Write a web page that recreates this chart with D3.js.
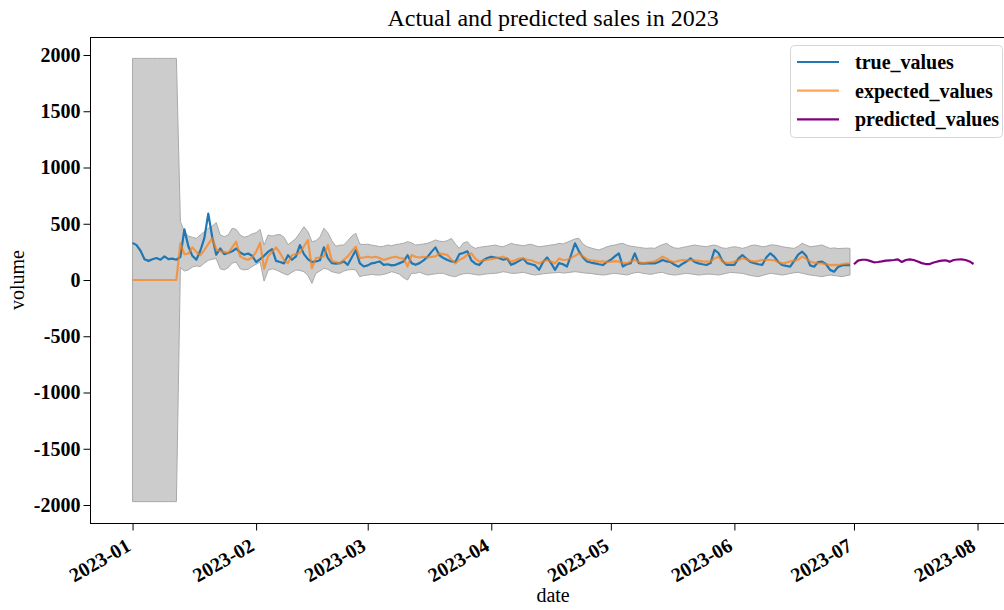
<!DOCTYPE html>
<html><head><meta charset="utf-8">
<script src="https://cdn.jsdelivr.net/npm/d3@7"></script>
<style>body{margin:0;background:#fff}svg{display:block}</style>
</head><body>
<svg id="chart" width="1004" height="610"></svg>
<script>
// ---------------- data ----------------
const historyStart = "2023-01-01";   // first daily observation
const forecastStart = "2023-07-01";  // first forecast day

const trueValues = [
 330,310,260,185,170,185,195,180,210,185,190,180,
 205,450,300,215,180,260,370,590,380,225,280,230,
 240,255,280,245,225,235,215,160,185,215,250,275,
 170,160,148,220,180,210,310,230,185,160,165,175,
 290,195,150,145,150,165,135,200,265,150,120,130,
 148,155,165,135,140,130,135,150,165,220,150,135,
 150,175,205,250,290,220,195,178,165,160,230,240,
 255,175,145,133,175,195,207,200,193,180,190,135,
 150,170,190,150,140,130,90,160,200,150,90,150,
 140,120,220,326,255,200,165,155,148,140,133,160,
 180,210,237,120,140,150,237,150,145,148,150,148,
 160,178,165,160,135,118,145,165,193,160,148,140,
 133,150,267,240,170,135,135,135,190,222,190,160,
 150,140,135,200,237,207,160,133,125,118,170,225,
 252,215,130,118,160,163,140,90,74,115,130,135,
 133];

const expectedValues = [
 0,0,0,0,0,0,0,0,0,0,0,0,
 325,230,235,290,250,220,265,320,370,270,255,250,
 240,290,340,210,190,180,200,250,330,100,210,250,
 290,240,175,150,220,230,240,300,355,105,195,200,
 210,310,170,160,148,180,210,255,296,195,200,207,
 200,207,195,178,190,200,207,195,190,120,222,207,
 200,207,200,205,210,237,230,222,180,148,180,195,
 225,237,190,163,175,180,185,193,200,207,190,163,
 175,190,193,180,175,160,148,165,178,165,148,190,
 178,180,195,215,237,210,185,175,170,163,165,160,
 163,168,163,155,148,165,178,160,148,155,160,165,
 185,207,190,165,160,170,178,175,178,175,170,165,
 163,165,190,207,165,150,155,163,175,193,185,170,
 163,170,178,180,178,175,160,148,155,165,172,180,
 207,190,163,155,150,148,140,133,135,133,140,145,
 148];

const upperValues = [
 1970,1970,1970,1970,1970,1970,1970,1970,1970,1970,1970,1970,
 520,430,390,380,370,400,430,460,480,510,400,385,
 400,460,450,400,380,390,410,420,450,310,400,390,
 400,405,380,315,340,370,420,474,430,340,350,380,
 460,420,350,300,310,311,350,390,415,320,315,318,
 310,305,296,300,311,305,315,320,326,341,330,311,
 315,320,326,340,356,345,341,350,370,320,281,330,
 341,300,281,290,296,300,305,311,300,296,310,326,
 315,311,305,312,318,305,296,300,305,311,315,326,
 320,335,350,365,370,320,296,285,275,267,280,295,
 305,311,320,326,310,300,296,290,285,281,285,281,
 300,315,326,300,285,281,290,296,305,311,305,300,
 296,305,311,300,285,281,290,296,290,281,290,305,
 311,305,296,300,311,311,305,296,290,285,281,300,
 326,310,296,300,305,311,295,281,285,280,281,283,
 281];

const lowerValues = [
 -1970,-1970,-1970,-1970,-1970,-1970,-1970,-1970,-1970,-1970,-1970,-1970,
 110,80,90,115,125,120,150,175,185,190,100,90,
 110,150,160,100,90,95,120,140,160,-10,85,100,
 90,74,55,44,70,89,85,74,40,-30,60,80,
 104,95,74,65,59,80,89,95,89,30,40,44,
 50,45,44,50,60,74,65,50,20,0,60,59,
 70,55,44,50,55,60,59,45,35,30,45,55,
 59,55,48,44,50,55,58,59,65,74,68,60,
 59,64,68,60,50,44,50,55,59,62,65,68,
 62,65,70,74,70,65,60,59,52,48,44,48,
 55,59,55,50,44,55,65,68,60,55,50,58,
 65,68,55,48,44,48,55,59,55,50,44,48,
 52,52,48,44,52,60,68,65,62,59,50,40,
 35,30,40,50,59,55,50,44,50,58,65,68,
 60,52,44,40,35,30,38,44,40,35,30,38,
 44];

const predictedValues = [
 140,172,180,180,170,157,160,165,172,175,178,184,160,178,184,178,
 165,150,142,142,155,165,172,175,163,178,182,184,178,165,142];

const xTickLabels = ["2023-01","2023-02","2023-03","2023-04","2023-05","2023-06","2023-07","2023-08"];
const yTickValues = [-2000,-1500,-1000,-500,0,500,1000,1500,2000];
const seriesNames = ["true_values","expected_values","predicted_values"];
const titleText = "Actual and predicted sales in 2023";

// ---------------- chart ----------------
const FONT = "'Liberation Serif','Times New Roman',Times,serif";
const colors = {true_values:"#1f77b4", expected_values:"#ff7f0e", predicted_values:"#800080"};

const parse = d3.utcParse("%Y-%m-%d");
const histDates = trueValues.map((_, i) => d3.utcDay.offset(parse(historyStart), i));
const predDates = predictedValues.map((_, i) => d3.utcDay.offset(parse(forecastStart), i));
const tickDates = xTickLabels.map(s => d3.utcParse("%Y-%m")(s));

const hist = histDates.map((d, i) => ({d, t: trueValues[i], e: expectedValues[i], lo: lowerValues[i], hi: upperValues[i]}));
const pred = predDates.map((d, i) => ({d, p: predictedValues[i]}));

const L = 90.5, R = 1015.6, T = 37, B = 523;
const first = histDates[0], last = predDates[predDates.length - 1];
const pad = (last - first) * 0.05;
const x = d3.scaleUtc().domain([new Date(+first - pad), new Date(+last + pad)]).range([L, R]);
const y = d3.scaleLinear().domain([-2160, 2160]).range([B, T]);

const svg = d3.select("#chart");
svg.append("rect").attr("width", 1004).attr("height", 610).attr("fill", "#fff");

// band
svg.append("path").datum(hist)
  .attr("d", d3.area().x(d => x(d.d)).y0(d => y(d.lo)).y1(d => y(d.hi)))
  .attr("fill", "#cccccc").attr("stroke", "#a9a9a9").attr("stroke-width", 1);

const line = (acc) => d3.line().x(d => x(d.d)).y(d => y(acc(d)));
svg.append("path").datum(hist).attr("d", line(d => d.t))
  .attr("fill", "none").attr("stroke", colors.true_values).attr("stroke-width", 2.2).attr("stroke-linejoin", "round");
svg.append("path").datum(hist).attr("d", line(d => d.e))
  .attr("fill", "none").attr("stroke", colors.expected_values).attr("stroke-opacity", 0.7).attr("stroke-width", 2.2).attr("stroke-linejoin", "round");
svg.append("path").datum(pred).attr("d", line(d => d.p))
  .attr("fill", "none").attr("stroke", colors.predicted_values).attr("stroke-width", 2.2).attr("stroke-linejoin", "round");

// frame
svg.append("rect").attr("x", L).attr("y", T + 0.5).attr("width", R - L).attr("height", B - T)
  .attr("fill", "none").attr("stroke", "#000").attr("stroke-width", 1);

// y axis
const yAxis = svg.append("g").attr("transform", `translate(${L},0)`)
  .call(d3.axisLeft(y).tickValues(yTickValues).tickSize(7).tickPadding(3).tickFormat(d => String(d)));
yAxis.select(".domain").remove();
yAxis.selectAll("text").attr("font-family", FONT).attr("font-size", 20).attr("font-weight", "bold").attr("fill", "#000");

// x axis
const xAxis = svg.append("g").attr("transform", `translate(0,${B + 0.5})`)
  .call(d3.axisBottom(x).tickValues(tickDates).tickSize(7).tickFormat((d, i) => xTickLabels[i]));
xAxis.select(".domain").remove();
xAxis.selectAll("text")
  .attr("font-family", FONT).attr("font-size", 20).attr("font-weight", "bold").attr("fill", "#000")
  .attr("text-anchor", "end").attr("y", 0).attr("dy", 0)
  .attr("transform", "translate(-1,26) rotate(-30)");

// titles
svg.append("text").attr("x", (L + R) / 2).attr("y", 26).attr("text-anchor", "middle")
  .attr("font-family", FONT).attr("font-size", 24).text(titleText);
svg.append("text").attr("x", (L + R) / 2).attr("y", 602).attr("text-anchor", "middle")
  .attr("font-family", FONT).attr("font-size", 20).text("date");
svg.append("text").attr("transform", `translate(24,${(T + B) / 2}) rotate(-90)`).attr("text-anchor", "middle")
  .attr("font-family", FONT).attr("font-size", 20).text("volume");

// legend
const lg = svg.append("g");
lg.append("rect").attr("x", 790.5).attr("y", 45.5).attr("width", 212).attr("height", 92).attr("rx", 4)
  .attr("fill", "#fff").attr("fill-opacity", 0.8).attr("stroke", "#d6d6d6");
seriesNames.forEach((name, i) => {
  const yy = 62 + i * 28.7;
  lg.append("line").attr("x1", 797).attr("x2", 839).attr("y1", yy).attr("y2", yy)
    .attr("stroke", colors[name]).attr("stroke-width", 2.2)
    .attr("stroke-opacity", name === "expected_values" ? 0.7 : 1);
  lg.append("text").attr("x", 855).attr("y", yy + 7)
    .attr("font-family", FONT).attr("font-size", 20).attr("font-weight", "bold").text(name);
});
</script>
</body></html>
